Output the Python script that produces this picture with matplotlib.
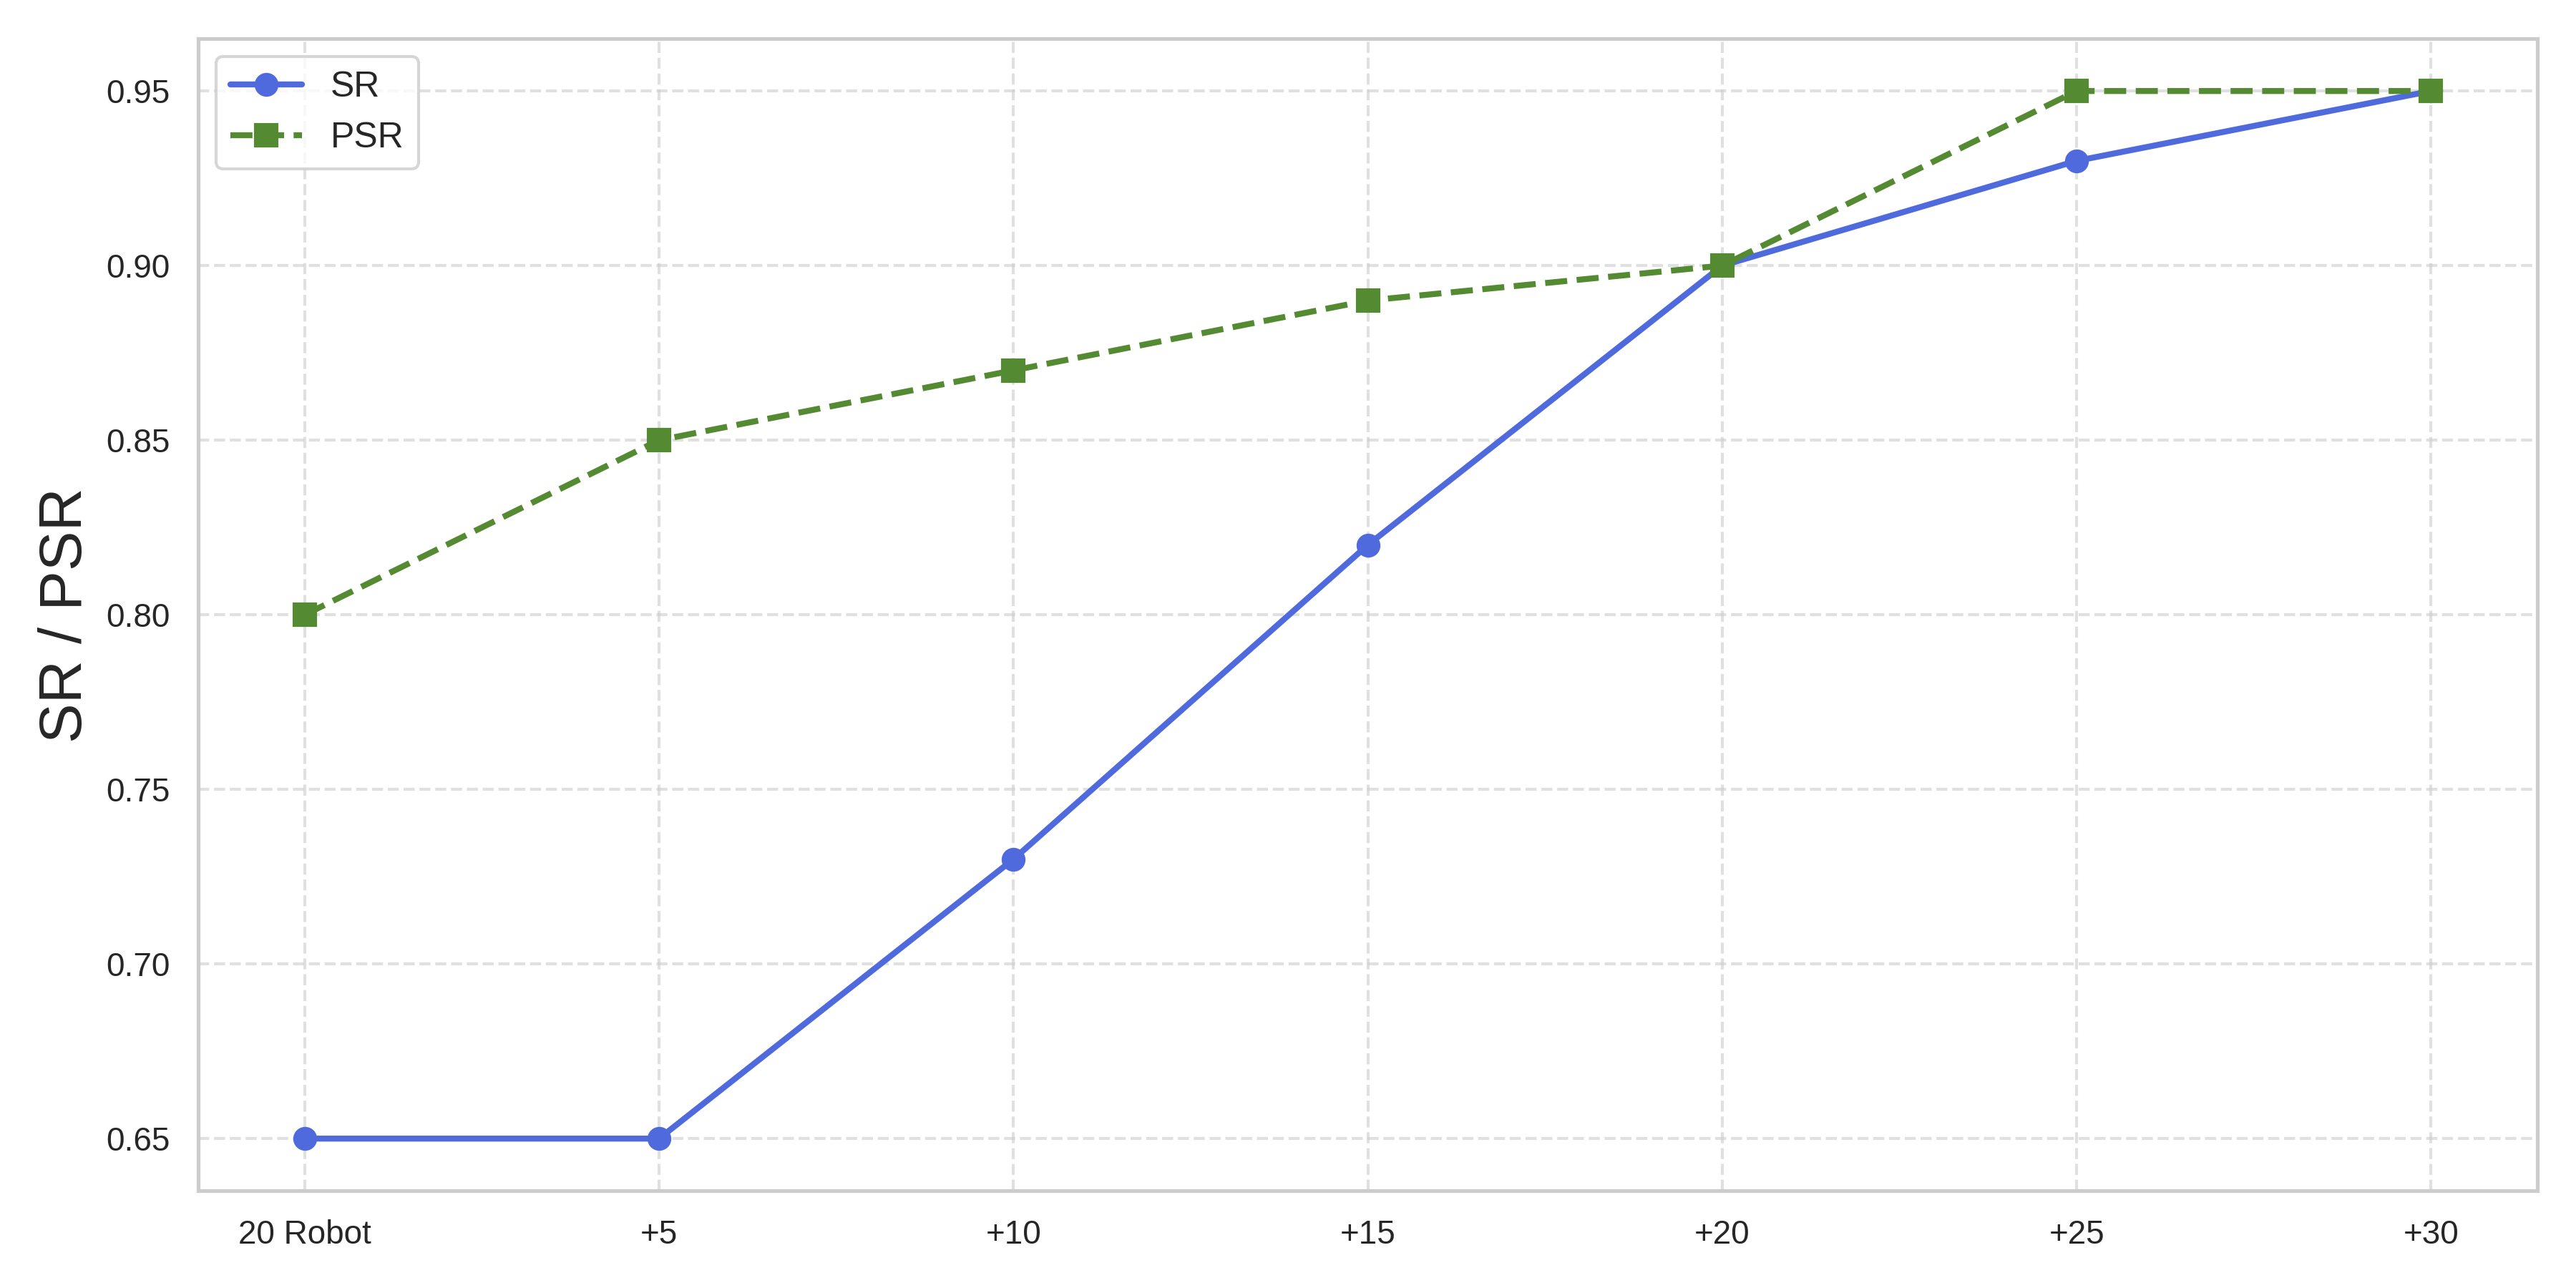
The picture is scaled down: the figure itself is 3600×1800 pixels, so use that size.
import matplotlib
matplotlib.use("Agg")
import matplotlib.pyplot as plt
import seaborn as sns

# Data
categories = ["20 Robot", "+5", "+10", "+15", "+20", "+25", "+30"]
sr_values = [0.65, 0.65, 0.73, 0.82, 0.90, 0.93, 0.95]
psr_values = [0.80, 0.85, 0.87, 0.89, 0.90, 0.95, 0.95]

sns.set_theme(style="whitegrid")
plt.rcParams["font.family"] = ["Liberation Sans", "DejaVu Sans"]

fig, ax = plt.subplots(figsize=(12, 6))

ax.plot(categories, sr_values, marker="o", linestyle="-", color="#4F6ADD",
        linewidth=2, markersize=7, label="SR")
ax.plot(categories, psr_values, marker="s", linestyle="--", color="#548A32",
        linewidth=2, markersize=7, label="PSR")

ax.set_ylabel("SR / PSR", fontsize=20)
ax.set_yticks([0.65, 0.70, 0.75, 0.80, 0.85, 0.90, 0.95])
ax.yaxis.set_major_formatter(matplotlib.ticker.FormatStrFormatter("%.2f"))
ax.tick_params(labelsize=11)
ax.grid(True, linestyle="--", alpha=0.6)
ax.legend(loc="upper left", fontsize=12)

plt.tight_layout()
plt.savefig("out.png", dpi=300)
plt.close()
